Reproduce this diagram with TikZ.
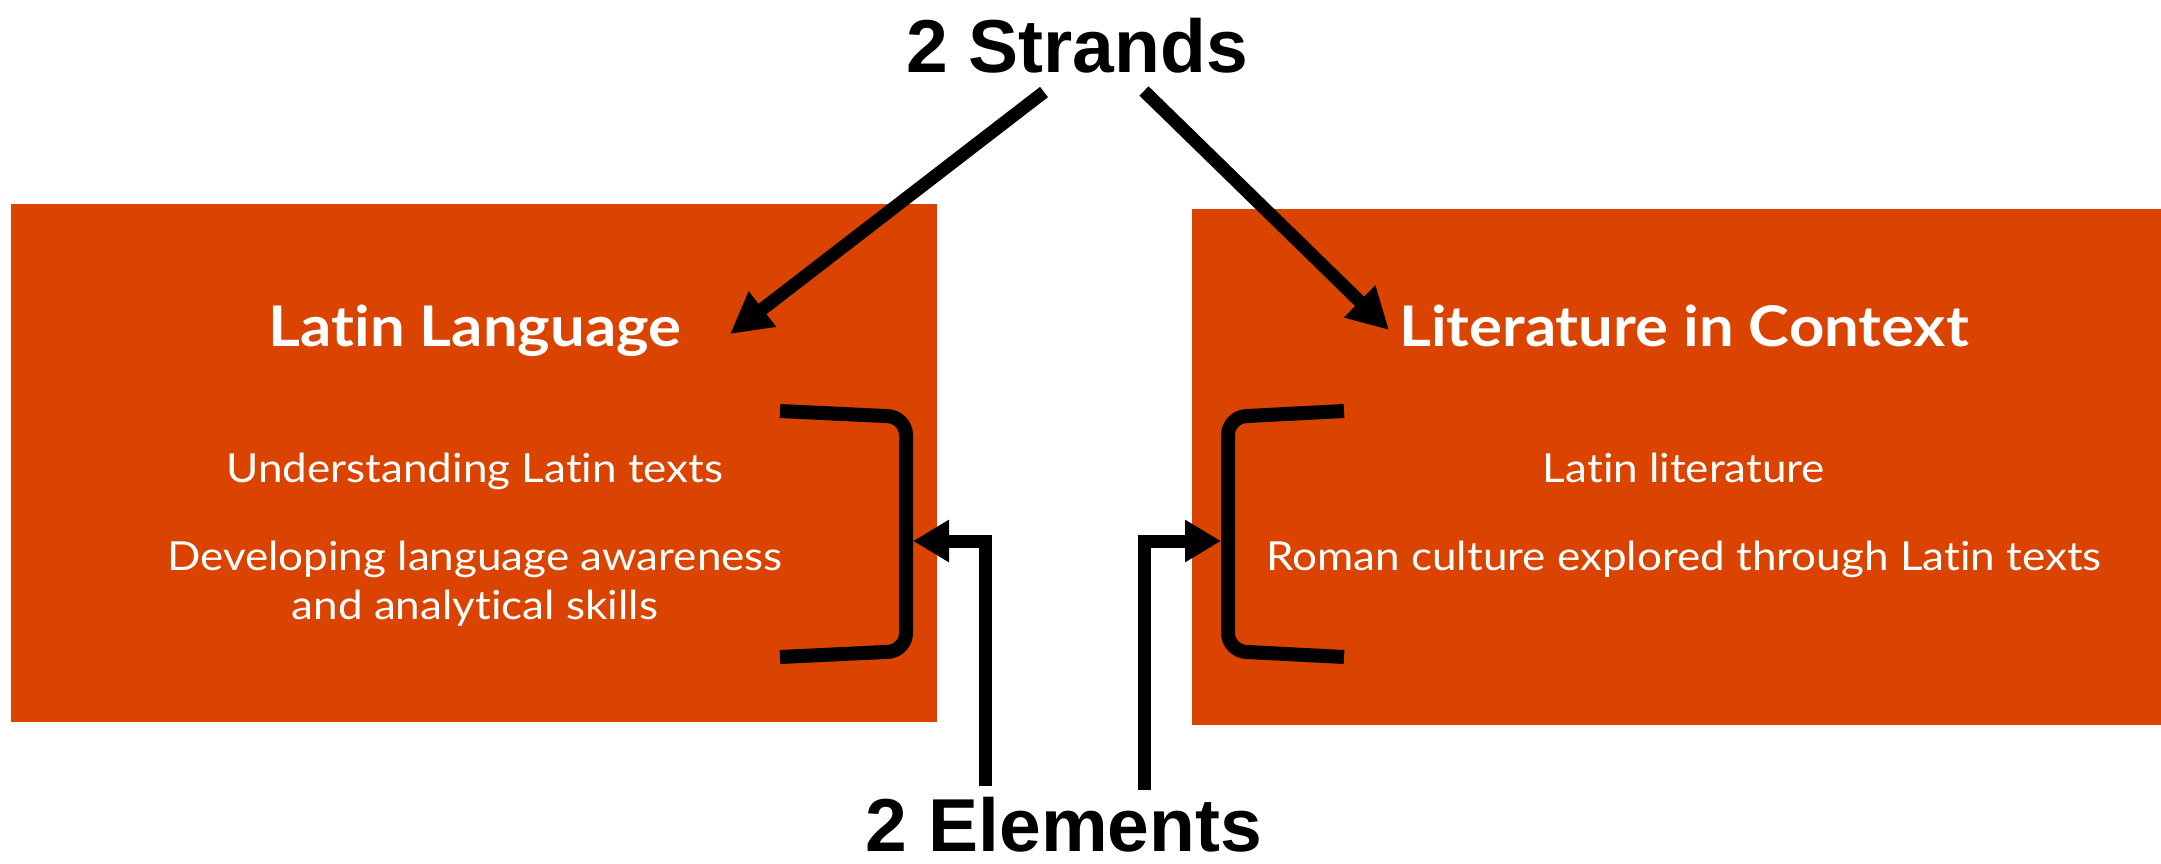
\documentclass[tikz,border=0pt]{standalone}
\usepackage{fontspec}
\setmainfont{Lato}
\newfontfamily\panelfont{Lato}[FakeStretch=1.1, Ligatures=CommonOff]
\newfontfamily\labelfont{Liberation Sans}
\usetikzlibrary{arrows.meta}
\definecolor{boxorange}{RGB}{218,67,0}

\begin{document}
\begin{tikzpicture}[x=1pt,y=-1pt,
  panel/.style={fill=boxorange, draw=none},
  title/.style={text=white, font=\panelfont\fontsize{56}{62}\selectfont\bfseries, inner sep=0, anchor=base},
  item/.style={text=white, font=\panelfont\fontsize{40}{48}\selectfont, inner sep=0, anchor=base},
  callout/.style={font=\labelfont\bfseries\fontsize{75}{80}\selectfont, inner sep=0, anchor=base},
  bracketline/.style={line width=14pt, rounded corners=18pt},
  strandptr/.style={line width=13pt, -{Triangle[length=41pt,width=42pt]}},
  elemptr/.style={line width=13pt, line join=miter, -{Triangle[length=36pt,width=40pt]}},
]
\useasboundingbox (0,0) rectangle (2161,863);
\fill[white] (0,0) rectangle (2161,863);

% the two strand panels
\path[panel] (11,204) rectangle (937,722);
\path[panel] (1192,209) rectangle (2161,725);

% panel texts
\node[title] (latin) at (475,346) {Latin Language};
\node[item] (und) at (475,482) {Understanding Latin texts};
\node[item] (dev) at (475,570) {Developing language awareness};
\node[item] (ana) at (475,619) {and analytical skills};

\node[title] (lit) at (1684,346) {Literature in Context};
\node[item] (llit) at (1684,482) {Latin literature};
\node[item] (rom) at (1684,570) {Roman culture explored through Latin texts};

% callout labels
\node[callout] (strands) at (1077,72) {2 Strands};
\node[callout] (elements) at (1064,851) {2 Elements};

% brackets grouping the elements
\draw[bracketline] (780,411) -- (906,417) -- (906,651) -- (780,657);
\draw[bracketline] (1344,411) -- (1228,417) -- (1228,651) -- (1344,657);

% arrow ends
\coordinate (sL) at (1044,92);
\coordinate (sR) at (1144,91);
\coordinate (tL) at (730,334);
\coordinate (tR) at (1389,330);
\coordinate (eL) at (985,786);
\coordinate (eR) at (1144,790);
\coordinate (bL) at (913,541);
\coordinate (bR) at (1221,541);

\draw[strandptr] (sL) -- (tL);
\draw[strandptr] (sR) -- (tR);
\draw[elemptr] (eL) |- (bL);
\draw[elemptr] (eR) |- (bR);
\end{tikzpicture}
\end{document}
